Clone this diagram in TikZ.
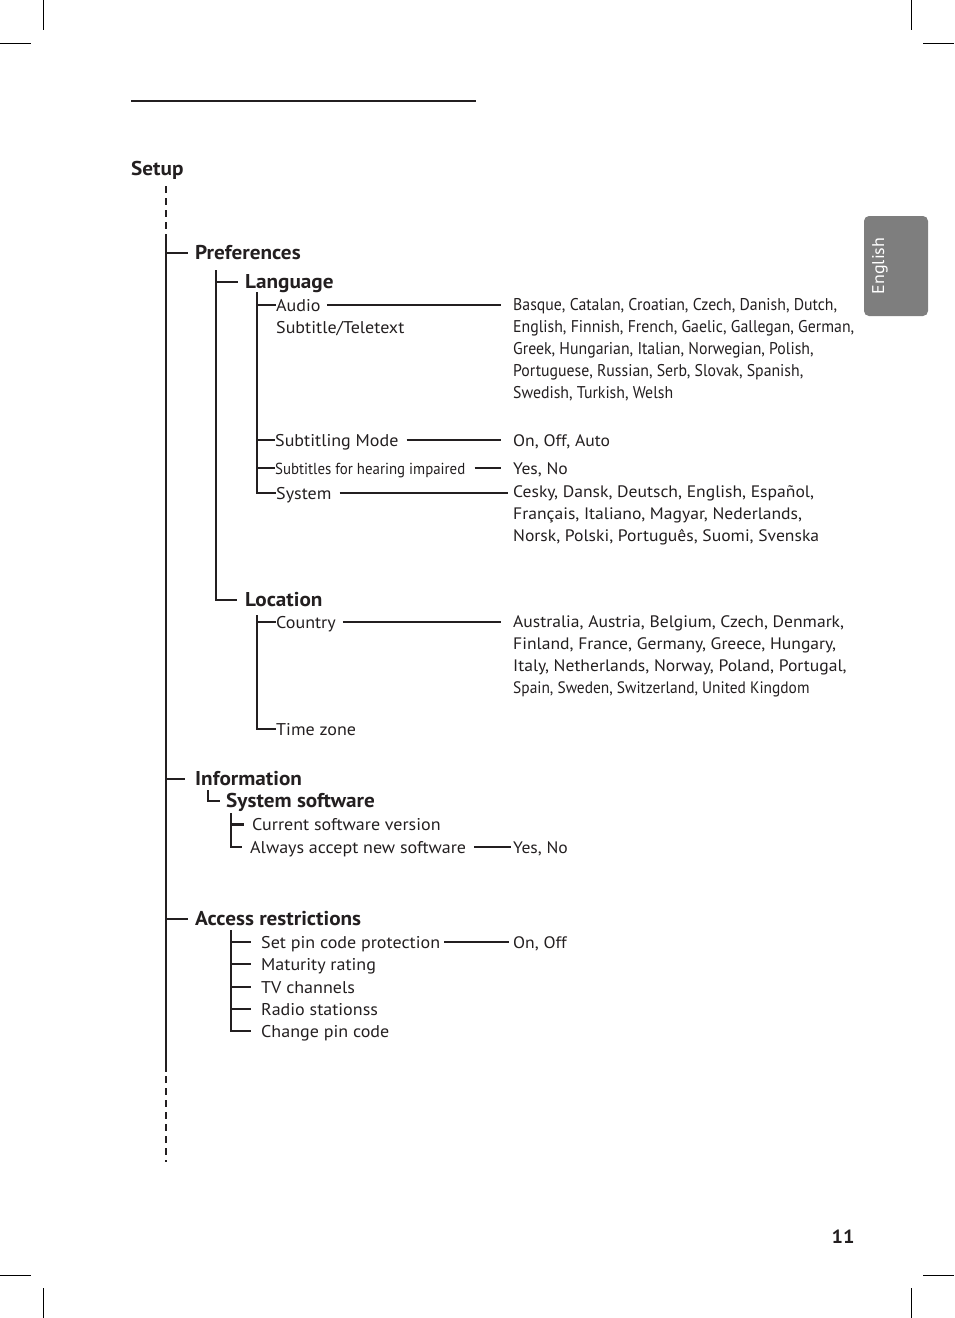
\documentclass[tikz,border=0pt]{standalone}
\usepackage{fontspec}
\setmainfont{PT Sans}[FakeStretch=1.06]
\newfontfamily\narrowfont[FakeStretch=0.93]{PT Sans}
\usetikzlibrary{positioning, calc}
\definecolor{mnuink}{HTML}{231F20}
\definecolor{mnutab}{HTML}{7E7E7E}

\begin{document}
\begin{tikzpicture}[
    x=1pt, y=-1pt,
    item/.style={anchor=west, inner sep=0pt, text height=13pt, text depth=1pt, text=mnuink, font=\fontsize{17}{22}\selectfont},
    head/.style={item, text height=14pt, font=\fontsize{20}{22}\selectfont\bfseries},
    vals/.style={anchor=base west, inner sep=0pt, align=left, text=mnuink, font=\fontsize{16.6}{22}\selectfont},
    tree/.style={line width=2pt, mnuink},
    conn/.style={line width=1.3pt, mnuink},
    trunkdash/.style={tree, dash pattern=on 7pt off 5pt},
    crop/.style={line width=0.8pt, black}
  ]
  \useasboundingbox (0,0) rectangle (954,1318);

  \draw[crop] (43,0) -- (43,30) (0,43) -- (31,43);
  \draw[crop] (911,0) -- (911,30) (923,43) -- (954,43);
  \draw[crop] (43,1288) -- (43,1318) (0,1275) -- (31,1275);
  \draw[crop] (911,1288) -- (911,1318) (923,1275) -- (954,1275);
  \draw[line width=2pt, mnuink] (131,101) -- (476,101);

  \node[head] (setup) at (131,169) {Setup};
  \node[head] (pref) at (195,253) {Preferences};
  \node[head] (lang) at (245,282) {Language};
  \node[item] (audio) at (276,305) {Audio};
  \node[item] (subtt) at (276,327) {Subtitle/Teletext};
  \node[item] (submode) at (275,440) {Subtitling Mode};
  \node[item] (hearing) at (275,468) {\narrowfont\fontsize{16}{22}\selectfont Subtitles for hearing impaired};
  \node[item] (system) at (276,493) {System};
  \node[head] (loc) at (245,600) {Location};
  \node[item] (country) at (276,622) {Country};
  \node[item] (tzone) at (276,729) {Time zone};
  \node[head] (info) at (195,779) {Information};
  \node[head] (swsys) at (226,801) {System software};
  \node[item] (swcur) at (252,824) {Current software version};
  \node[item] (swnew) at (250,847) {Always accept new software};
  \node[head] (access) at (195,919) {Access restrictions};
  \node[item] (pin) at (261,942) {Set pin code protection};
  \node[item] (matur) at (261,964) {Maturity rating};
  \node[item] (tvch) at (261,987) {TV channels};
  \node[item] (radio) at (261,1009) {Radio stationss};
  \node[item] (chpin) at (261,1031) {Change pin code};

  \node[vals, font=\narrowfont\fontsize{17}{22}\selectfont] (langs) at (513,398) {Basque, Catalan, Croatian, Czech, Danish, Dutch,\\English, Finnish, French, Gaelic, Gallegan, German,\\Greek, Hungarian, Italian, Norwegian, Polish,\\Portuguese, Russian, Serb, Slovak, Spanish,\\Swedish, Turkish, Welsh};
  \node[vals] (modes) at (513,446) {On, Off, Auto};
  \node[vals] (yesno) at (513,474) {Yes, No};
  \node[vals] (syslangs) at (513,541) {Cesky, Dansk, Deutsch, English, Español,\\Français, Italiano, Magyar, Nederlands,\\Norsk, Polski, Português, Suomi, Svenska};
  \node[vals] (countries) at (513,693) {Australia, Austria, Belgium, Czech, Denmark,\\Finland, France, Germany, Greece, Hungary,\\Italy, Netherlands, Norway, Poland, Portugal,\\{\narrowfont Spain, Sweden, Switzerland, United Kingdom}};
  \node[vals] (swyesno) at (513,853) {Yes, No};
  \node[vals] (onoff) at (513,948) {On, Off};

  \coordinate (t0) at (166,186);
  \coordinate (t1) at (166,238);
  \coordinate (t2) at (166,1072);
  \coordinate (t3) at (166,1162);
  \draw[trunkdash] (t0) -- (t1);
  \draw[tree] (t1) -- (t2);
  \draw[trunkdash] ([yshift=-4pt]t2) -- (t3);
  \draw[tree] (t1 |- pref.west) -- ([xshift=-7pt]pref.west);
  \draw[tree] (t1 |- info.west) -- ([xshift=-10pt]info.west);
  \draw[tree] (t1 |- access.west) -- ([xshift=-7pt]access.west);

  \coordinate (p0) at (216,270);
  \draw[tree] (p0) |- ([xshift=-8pt]loc.west);
  \draw[tree] (p0 |- lang.west) -- ([xshift=-7pt]lang.west);

  \coordinate (l0) at (257,292);
  \draw[tree] (l0) |- (system.west);
  \foreach \n in {audio, submode, hearing}
    \draw[tree] (l0 |- \n.west) -- (\n.west);

  \coordinate (c0) at (257,615);
  \draw[tree] (c0) |- (tzone.west);
  \draw[tree] (c0 |- country.west) -- (country.west);

  \coordinate (i0) at (208,790);
  \draw[line width=1.6pt, mnuink] (i0) |- ([xshift=-6pt]swsys.west);

  \coordinate (s0) at (231,813);
  \draw[tree] (s0) |- ([xshift=-8pt]swnew.west);
  \draw[line width=3pt, mnuink] (s0 |- swcur.west) -- ([xshift=-8pt]swcur.west);

  \coordinate (a0) at (231,930);
  \draw[tree] (a0) |- ([xshift=-10pt]chpin.west);
  \foreach \n in {pin, matur, tvch, radio}
    \draw[tree] (a0 |- \n.west) -- ([xshift=-10pt]\n.west);

  \draw[conn] ([xshift=6pt]audio.east) -- ([xshift=-12pt]audio.east -| langs.west);
  \draw[conn] ([xshift=8pt]submode.east) -- ([xshift=-12pt]submode.east -| modes.west);
  \draw[conn] ([xshift=9pt]hearing.east) -- ([xshift=-12pt]hearing.east -| yesno.west);
  \draw[conn] ([xshift=8pt]system.east) -- ([xshift=-5pt]system.east -| syslangs.west);
  \draw[conn] ([xshift=7pt]country.east) -- ([xshift=-12pt]country.east -| countries.west);
  \draw[conn] ([xshift=8pt]swnew.east) -- ([xshift=-2pt]swnew.east -| swyesno.west);
  \draw[conn] ([xshift=4pt]pin.east) -- ([xshift=-4pt]pin.east -| onoff.west);

  \node[fill=mnutab, rounded corners=5pt, minimum width=64pt, minimum height=100pt, inner sep=0pt] (tab) at (896,266) {};
  \node[rotate=90, text=white, font=\fontsize{17}{20}\selectfont, inner sep=0pt] (tabtxt) at (880,266) {English};
  \node[font=\fontsize{19}{22}\selectfont\bfseries, text=mnuink, inner sep=0pt] (pageno) at (843,1237) {11};
\end{tikzpicture}
\end{document}
